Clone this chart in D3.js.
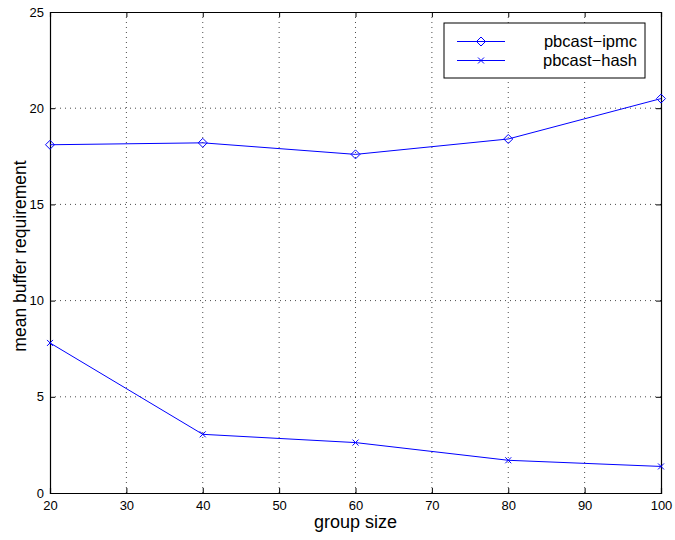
<!DOCTYPE html>
<html><head><meta charset="utf-8">
<script src="https://cdn.jsdelivr.net/npm/d3@7"></script>
<style>body{margin:0;background:#fff}svg{display:block}text{font-family:"Liberation Sans",Arial,sans-serif;fill:#000}</style>
</head><body><svg id="c" width="675" height="540"></svg>
<script>
const groupSizes = [20, 40, 60, 80, 100];
const ipmc = [18.1, 18.2, 17.6, 18.4, 20.5];
const hash = [7.8, 3.05, 2.62, 1.7, 1.38];
const xTicks = [20, 30, 40, 50, 60, 70, 80, 90, 100];
const yTicks = [0, 5, 10, 15, 20, 25];
const seriesNames = ["pbcast\u2212ipmc", "pbcast\u2212hash"];

const svg = d3.select("#c");
const L = 50, R = 661, T = 12, B = 493;
const x = d3.scaleLinear().domain([20, 100]).range([L, R]);
const y = d3.scaleLinear().domain([0, 25]).range([B, T]);
const color = "#0000ff";

svg.append("rect").attr("width", 675).attr("height", 540).attr("fill", "#fff");

// grid
const g = svg.append("g");
xTicks.slice(1, -1).forEach(v => g.append("line").attr("x1", x(v)).attr("x2", x(v)).attr("y1", T).attr("y2", B)
  .attr("stroke", "#000").attr("stroke-width", 1).attr("stroke-dasharray", "1,4").attr("opacity", 0.7));
yTicks.slice(1, -1).forEach(v => g.append("line").attr("x1", L).attr("x2", R).attr("y1", y(v)).attr("y2", y(v))
  .attr("stroke", "#000").attr("stroke-width", 1).attr("stroke-dasharray", "1,4").attr("opacity", 0.7));

// axes
const xa = svg.append("g").attr("transform", `translate(0,${B})`)
  .call(d3.axisBottom(x).tickValues(xTicks).tickSize(-5).tickPadding(8).tickFormat(d3.format("d")));
const xa2 = svg.append("g").attr("transform", `translate(0,${T})`)
  .call(d3.axisTop(x).tickValues(xTicks).tickSize(-5).tickFormat(""));
const ya = svg.append("g").attr("transform", `translate(${L},0)`)
  .call(d3.axisLeft(y).tickValues(yTicks).tickSize(-5).tickPadding(6).tickFormat(d3.format("d")));
const ya2 = svg.append("g").attr("transform", `translate(${R},0)`)
  .call(d3.axisRight(y).tickValues(yTicks).tickSize(-5).tickFormat(""));
[xa, xa2, ya, ya2].forEach(a => {
  a.selectAll("path").attr("stroke", "#000").attr("stroke-width", 1.2);
  a.selectAll("line").attr("stroke", "#000");
  a.selectAll("text").style("font-size", "13px").attr("fill", "#000");
});
xa.selectAll("text").attr("dy", "0.71em");

// lines
const line = d3.line().x((d, i) => x(groupSizes[i])).y(d => y(d));
[ipmc, hash].forEach(s => svg.append("path").datum(s).attr("d", line)
  .attr("fill", "none").attr("stroke", color).attr("stroke-width", 1));

const diamond = (cx, cy, r) => `M${cx},${cy - r}L${cx + r},${cy}L${cx},${cy + r}L${cx - r},${cy}Z`;
const cross = (cx, cy, r) => `M${cx - r},${cy - r}L${cx + r},${cy + r}M${cx - r},${cy + r}L${cx + r},${cy - r}`;

svg.selectAll(".dm").data(ipmc).enter().append("path")
  .attr("d", (d, i) => diamond(x(groupSizes[i]), y(d), 4.5))
  .attr("fill", "none").attr("stroke", color).attr("stroke-width", 1);
svg.selectAll(".cr").data(hash).enter().append("path")
  .attr("d", (d, i) => cross(x(groupSizes[i]), y(d), 3))
  .attr("fill", "none").attr("stroke", color).attr("stroke-width", 1);

// legend
const lg = svg.append("g");
lg.append("rect").attr("x", 444).attr("y", 23).attr("width", 201).attr("height", 55)
  .attr("fill", "#fff").attr("stroke", "#000").attr("stroke-width", 1);
[0, 1].forEach(i => {
  const yy = 41.5 + i * 19;
  lg.append("line").attr("x1", 457).attr("x2", 505).attr("y1", yy).attr("y2", yy).attr("stroke", color).attr("stroke-width", 1);
  lg.append("path").attr("d", i === 0 ? diamond(481, yy, 4.5) : cross(481, yy, 3))
    .attr("fill", "none").attr("stroke", color).attr("stroke-width", 1);
  lg.append("text").attr("x", 637).attr("y", yy).attr("dy", "0.35em").attr("text-anchor", "end")
    .style("font-size", "16.5px").text(seriesNames[i]);
});

// labels
svg.append("text").attr("x", (L + R) / 2).attr("y", 528).attr("text-anchor", "middle")
  .style("font-size", "18px").text("group size");
svg.append("text").attr("transform", `translate(26,256) rotate(-90)`).attr("text-anchor", "middle")
  .style("font-size", "17.5px").text("mean buffer requirement");
</script></body></html>
